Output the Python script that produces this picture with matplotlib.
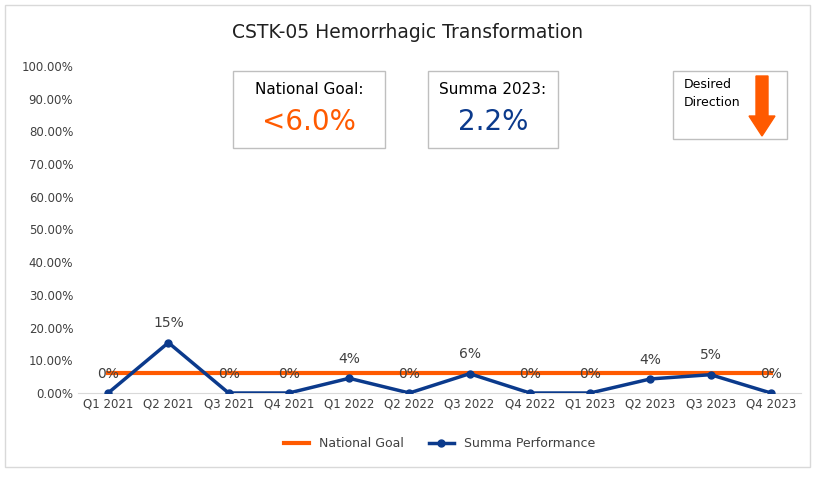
import matplotlib.pyplot as plt
from matplotlib.patches import Rectangle, FancyArrow

quarters = ['Q1 2021', 'Q2 2021', 'Q3 2021', 'Q4 2021', 'Q1 2022', 'Q2 2022',
            'Q3 2022', 'Q4 2022', 'Q1 2023', 'Q2 2023', 'Q3 2023', 'Q4 2023']
summa = [0, 15.4, 0, 0, 4.5, 0, 5.9, 0, 0, 4.3, 5.6, 0]
point_labels = ['0%', '15%', '0%', '0%', '4%', '0%', '6%', '0%', '0%', '4%', '5%', '0%']
goal = [6.0] * len(quarters)

W, H = 816, 478
fig = plt.figure(figsize=(W / 100, H / 100), dpi=100)
fig.patches.append(Rectangle((5 / W, 11 / H), 805 / W, 462 / H, transform=fig.transFigure,
                             fill=False, edgecolor='#d9d9d9', lw=1))

ax = fig.add_axes([78 / W, (H - 393) / H, 723 / W, 327 / H])
x = range(len(quarters))
ax.plot(x, goal, color='#ff5a00', lw=3, label='National Goal', zorder=2)
ax.plot(x, summa, color='#0b3a8c', lw=2.5, marker='o', ms=5, label='Summa Performance', zorder=3)
for i, (v, t) in enumerate(zip(summa, point_labels)):
    ax.annotate(t, (i, v), xytext=(0, 11), textcoords='offset points', ha='center',
                fontsize=10, color='#404040')

ax.set_xlim(-0.5, len(quarters) - 0.5)
ax.set_ylim(0, 100)
ax.set_yticks(range(0, 101, 10))
ax.set_yticklabels([f'{v:.2f}%' for v in range(0, 101, 10)])
ax.set_xticks(list(x))
ax.set_xticklabels(quarters)
ax.tick_params(labelsize=8.5, colors='#404040', length=0)
for s in ['top', 'right', 'left']:
    ax.spines[s].set_visible(False)
ax.spines['bottom'].set_color('#d9d9d9')

fig.text(0.5, (H - 32) / H, 'CSTK-05 Hemorrhagic Transformation', ha='center', va='center',
         fontsize=13.5, color='#202020')

def box(x0, y0, x1, y1):
    fig.patches.append(Rectangle((x0 / W, (H - y1) / H), (x1 - x0) / W, (y1 - y0) / H,
                                 transform=fig.transFigure, facecolor='white',
                                 edgecolor='#bfbfbf', lw=1, zorder=5))

box(233, 71, 385, 148)
fig.text(309 / W, (H - 90) / H, 'National Goal:', ha='center', va='center', fontsize=11, zorder=6)
fig.text(309 / W, (H - 122) / H, '<6.0%', ha='center', va='center', fontsize=20,
         color='#ff5a00', zorder=6)
box(428, 71, 558, 148)
fig.text(493 / W, (H - 90) / H, 'Summa 2023:', ha='center', va='center', fontsize=11, zorder=6)
fig.text(493 / W, (H - 122) / H, '2.2%', ha='center', va='center', fontsize=20,
         color='#0b3a8c', zorder=6)
box(673, 71, 787, 139)
fig.text(684 / W, (H - 94) / H, 'Desired\nDirection', ha='left', va='center', fontsize=9,
         linespacing=1.5, zorder=6)
fig.patches.append(FancyArrow(762 / W, (H - 76) / H, 0, -60 / H, width=12 / W,
                              head_width=26 / W, head_length=20 / H, length_includes_head=True,
                              transform=fig.transFigure, color='#ff5a00', zorder=6))

ax.legend(loc='upper center', bbox_to_anchor=(0.5, -0.1), ncol=2, frameon=False,
          fontsize=9, labelcolor='#404040')
fig.savefig('out.png', dpi=100)
